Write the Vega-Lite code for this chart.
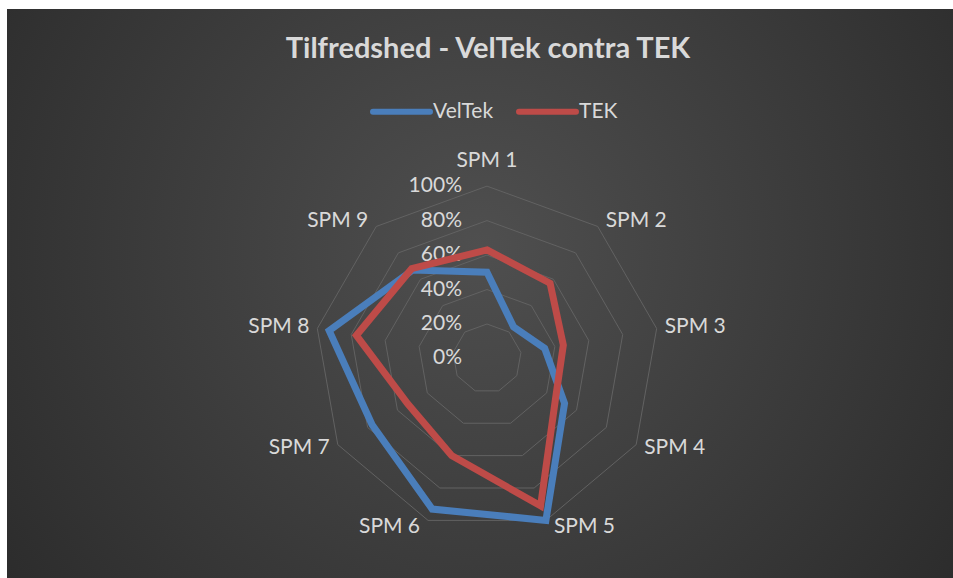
{
  "$schema": "https://vega.github.io/schema/vega-lite/v6.json",
  "width": 946,
  "height": 569,
  "autosize": {"type": "none"},
  "padding": {"left": 7, "top": 9, "right": 0, "bottom": 0},
  "background": "#ffffff",
  "view": {
    "stroke": null,
    "fill": {
      "gradient": "radial",
      "x1": 0.5, "y1": 0.45, "r1": 0,
      "x2": 0.5, "y2": 0.45, "r2": 0.72,
      "stops": [
        {"offset": 0, "color": "#4f4f4f"},
        {"offset": 1, "color": "#262626"}
      ]
    }
  },
  "title": {
    "text": "Tilfredshed - VelTek contra TEK",
    "frame": "group",
    "anchor": "middle",
    "offset": -78,
    "baseline": "alphabetic",
    "dx": 8,
    "font": "Lato",
    "fontSize": 29,
    "fontWeight": "bold",
    "color": "#d9d9d9"
  },
  "datasets": {
    "scores": [
      {"spm": "SPM 1", "i": 1, "series": "VelTek", "value": 50},
      {"spm": "SPM 2", "i": 2, "series": "VelTek", "value": 24},
      {"spm": "SPM 3", "i": 3, "series": "VelTek", "value": 34},
      {"spm": "SPM 4", "i": 4, "series": "VelTek", "value": 52},
      {"spm": "SPM 5", "i": 5, "series": "VelTek", "value": 100},
      {"spm": "SPM 6", "i": 6, "series": "VelTek", "value": 93},
      {"spm": "SPM 7", "i": 7, "series": "VelTek", "value": 77},
      {"spm": "SPM 8", "i": 8, "series": "VelTek", "value": 93},
      {"spm": "SPM 9", "i": 9, "series": "VelTek", "value": 67},
      {"spm": "SPM 1", "i": 1, "series": "TEK", "value": 63},
      {"spm": "SPM 2", "i": 2, "series": "TEK", "value": 57},
      {"spm": "SPM 3", "i": 3, "series": "TEK", "value": 45},
      {"spm": "SPM 4", "i": 4, "series": "TEK", "value": 46},
      {"spm": "SPM 5", "i": 5, "series": "TEK", "value": 91},
      {"spm": "SPM 6", "i": 6, "series": "TEK", "value": 60},
      {"spm": "SPM 7", "i": 7, "series": "TEK", "value": 53},
      {"spm": "SPM 8", "i": 8, "series": "TEK", "value": 77},
      {"spm": "SPM 9", "i": 9, "series": "TEK", "value": 68}
    ],
    "levels": [
      {"level": 0, "spokes": [1, 2, 3, 4, 5, 6, 7, 8, 9]},
      {"level": 20, "spokes": [1, 2, 3, 4, 5, 6, 7, 8, 9]},
      {"level": 40, "spokes": [1, 2, 3, 4, 5, 6, 7, 8, 9]},
      {"level": 60, "spokes": [1, 2, 3, 4, 5, 6, 7, 8, 9]},
      {"level": 80, "spokes": [1, 2, 3, 4, 5, 6, 7, 8, 9]},
      {"level": 100, "spokes": [1, 2, 3, 4, 5, 6, 7, 8, 9]}
    ]
  },
  "encoding": {
    "x": {"field": "x", "type": "quantitative", "scale": {"domain": [-278.6, 270.5], "nice": false, "zero": false}, "axis": null},
    "y": {"field": "y", "type": "quantitative", "scale": {"domain": [-127.4, 202.8], "nice": false, "zero": false}, "axis": null}
  },
  "layer": [
    {
      "data": {"name": "levels"},
      "transform": [
        {"filter": "datum.level > 0"},
        {"flatten": ["spokes"], "as": ["k"]},
        {"calculate": "(datum.k - 1) * 2 * PI / 9", "as": "a"},
        {"calculate": "datum.level * sin(datum.a)", "as": "x"},
        {"calculate": "datum.level * cos(datum.a)", "as": "y"}
      ],
      "mark": {"type": "line", "interpolate": "linear-closed", "stroke": "#626262", "strokeWidth": 1},
      "encoding": {
        "detail": {"field": "level", "type": "nominal"},
        "order": {"field": "k", "type": "quantitative"}
      }
    },
    {
      "data": {"name": "levels"},
      "transform": [
        {"calculate": "0", "as": "x"},
        {"calculate": "datum.level", "as": "y"},
        {"calculate": "datum.level + '%'", "as": "label"}
      ],
      "mark": {"type": "text", "align": "right", "baseline": "middle", "dx": -25, "font": "Lato", "fontSize": 21, "color": "#d9d9d9"},
      "encoding": {"text": {"field": "label", "type": "nominal"}}
    },
    {
      "data": {"name": "scores"},
      "transform": [
        {"filter": "datum.series === 'VelTek' && datum.i === 1"},
        {"calculate": "0", "as": "x"},
        {"calculate": "100", "as": "y"}
      ],
      "mark": {"type": "text", "align": "center", "baseline": "alphabetic", "dy": -19, "font": "Lato", "fontSize": 21, "color": "#d9d9d9"},
      "encoding": {"text": {"field": "spm", "type": "nominal"}}
    },
    {
      "data": {"name": "scores"},
      "transform": [
        {"filter": "datum.series === 'VelTek' && datum.i >= 2 && datum.i <= 5"},
        {"calculate": "(datum.i - 1) * 2 * PI / 9", "as": "a"},
        {"calculate": "100 * sin(datum.a)", "as": "x"},
        {"calculate": "104 * cos(datum.a)", "as": "y"}
      ],
      "mark": {"type": "text", "align": "left", "baseline": "middle", "dx": 8, "font": "Lato", "fontSize": 21, "color": "#d9d9d9"},
      "encoding": {"text": {"field": "spm", "type": "nominal"}}
    },
    {
      "data": {"name": "scores"},
      "transform": [
        {"filter": "datum.series === 'VelTek' && datum.i >= 6"},
        {"calculate": "(datum.i - 1) * 2 * PI / 9", "as": "a"},
        {"calculate": "100 * sin(datum.a)", "as": "x"},
        {"calculate": "104 * cos(datum.a)", "as": "y"}
      ],
      "mark": {"type": "text", "align": "right", "baseline": "middle", "dx": -8, "font": "Lato", "fontSize": 21, "color": "#d9d9d9"},
      "encoding": {"text": {"field": "spm", "type": "nominal"}}
    },
    {
      "data": {"name": "scores"},
      "transform": [
        {"calculate": "(datum.i - 1) * 2 * PI / 9", "as": "a"},
        {"calculate": "datum.value * sin(datum.a)", "as": "x"},
        {"calculate": "datum.value * cos(datum.a)", "as": "y"}
      ],
      "mark": {"type": "line", "interpolate": "linear-closed", "strokeWidth": 7, "strokeJoin": "miter"},
      "encoding": {
        "color": {
          "field": "series",
          "type": "nominal",
          "sort": ["VelTek", "TEK"],
          "scale": {"domain": ["VelTek", "TEK"], "range": ["#4a7ebb", "#be4b48"]},
          "legend": {
            "orient": "none",
            "legendX": 363,
            "legendY": 71,
            "direction": "horizontal",
            "title": null,
            "padding": 0,
            "symbolType": "stroke",
            "symbolSize": 3249,
            "symbolStrokeWidth": 6,
            "labelFont": "Lato",
            "labelFontSize": 21,
            "labelColor": "#d9d9d9",
            "labelOffset": 0,
            "columnPadding": 13,
            "encode": {"symbols": {"update": {"strokeCap": {"value": "round"}}}}
          }
        },
        "order": {"field": "i", "type": "quantitative"}
      }
    }
  ]
}
